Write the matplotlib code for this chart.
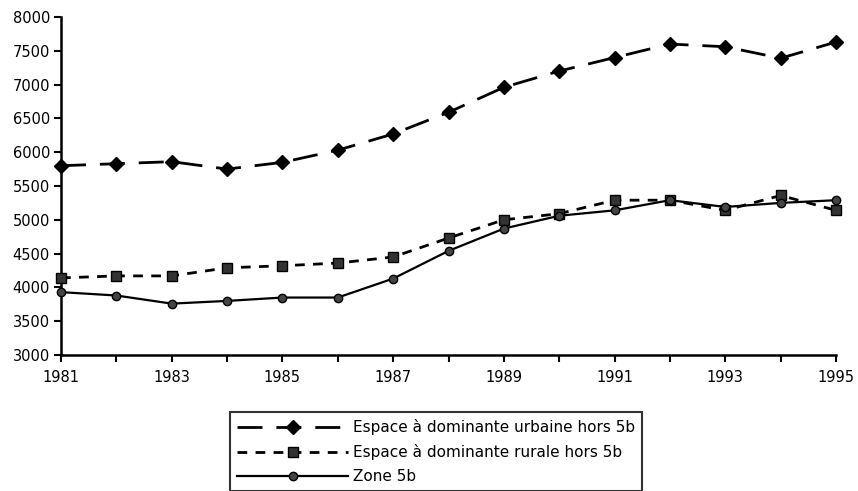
import matplotlib
matplotlib.use("Agg")
import matplotlib.pyplot as plt

years = list(range(1981, 1996))
urbaine = [5800, 5830, 5860, 5750, 5850, 6030, 6270, 6590, 6960, 7200, 7400, 7600, 7560, 7390, 7630]
rurale = [4140, 4170, 4170, 4290, 4320, 4360, 4450, 4730, 5000, 5090, 5290, 5290, 5140, 5360, 5140]
zone5b = [3930, 3880, 3760, 3800, 3850, 3850, 4130, 4540, 4870, 5060, 5140, 5290, 5190, 5250, 5290]
labels = ["Espace à dominante urbaine hors 5b",
          "Espace à dominante rurale hors 5b",
          "Zone 5b"]
yticks = list(range(3000, 8001, 500))
xlabels_years = years[::2]

plt.rcParams['font.family'] = ['DejaVu Sans']

fig = plt.figure(figsize=(8.58, 4.91), dpi=100)
fig.patch.set_facecolor("white")
ax = fig.add_axes([61/858, 1 - 355/491, 775/858, 338/491])

ax.plot(years, urbaine, color="black", lw=2.0, dashes=(9, 5), marker="D", ms=7,
        mfc="black", mec="black", label=labels[0], clip_on=False, zorder=3)
ax.plot(years, rurale, color="black", lw=2.0, dashes=(3.5, 3), marker="s", ms=6.5,
        mfc="#333333", mec="black", label=labels[1], clip_on=False, zorder=4)
ax.plot(years, zone5b, color="black", lw=1.6, marker="o", ms=6,
        mfc="#444444", mec="black", label=labels[2], clip_on=False, zorder=5)

ax.set_xlim(1981, 1995)
ax.set_ylim(3000, 8000)
ax.set_xticks(years)
ax.set_xticklabels([str(y) if y in xlabels_years else "" for y in years], fontsize=10.5)
ax.set_yticks(yticks)
ax.set_yticklabels([str(v) for v in yticks], fontsize=10.5)
ax.tick_params(axis="both", direction="out", length=5, width=1.5, color="black")
ax.tick_params(axis="x", pad=6)
ax.tick_params(axis="y", pad=3)
for side in ("top", "right"):
    ax.spines[side].set_visible(False)
for side in ("left", "bottom"):
    ax.spines[side].set_linewidth(1.8)

leg = fig.legend(loc="upper left", bbox_to_anchor=(230/858, 1 - 412/491),
                 fontsize=11, handlelength=7.3, frameon=True, fancybox=False,
                 edgecolor="black", borderpad=0.45, labelspacing=0.6,
                 handletextpad=0.3, borderaxespad=0)
leg.get_frame().set_linewidth(1.5)

fig.savefig("out.png", dpi=100)
